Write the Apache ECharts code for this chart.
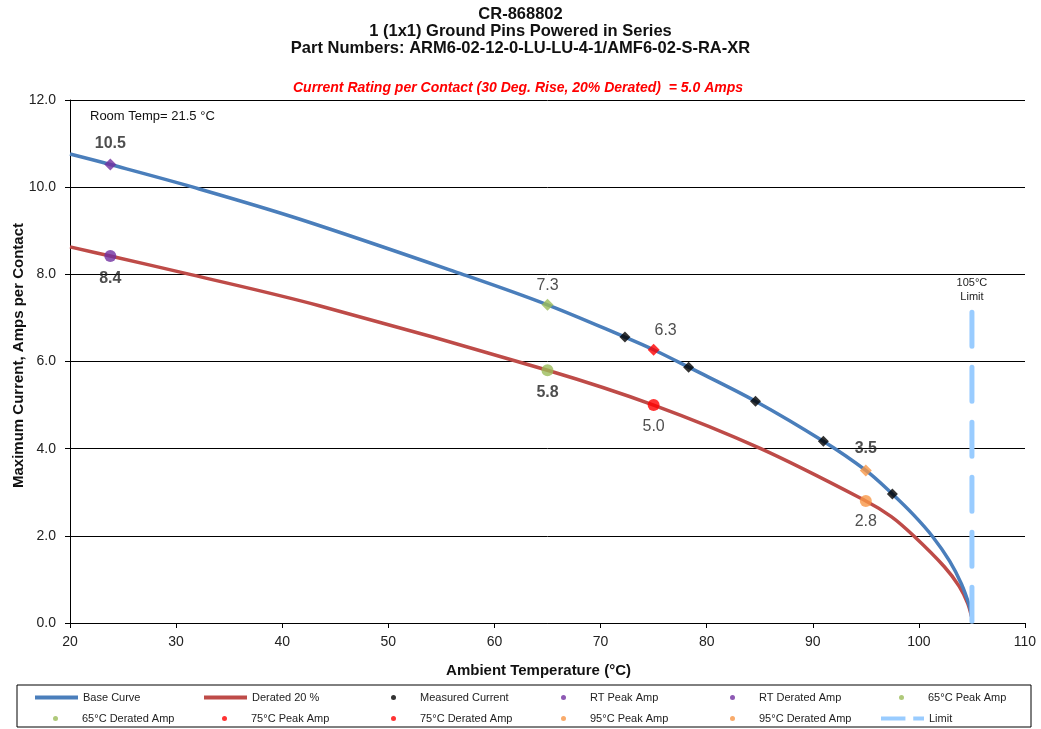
<!DOCTYPE html>
<html>
<head>
<meta charset="utf-8">
<script src="https://cdn.jsdelivr.net/npm/echarts@6/dist/echarts.min.js"></script>
<style>
html,body{margin:0;padding:0;background:#fff;}
#chart{width:1041px;height:729px;}
</style>
</head>
<body>
<div id="chart"></div>
<script>
// ---- data ----
const titleLines = ['CR-868802', '1 (1x1) Ground Pins Powered in Series', 'Part Numbers: ARM6-02-12-0-LU-LU-4-1/AMF6-02-S-RA-XR'];
const subtitleText = 'Current Rating per Contact (30 Deg. Rise, 20% Derated)  = 5.0 Amps';
const roomTempText = 'Room Temp= 21.5 °C';
const xAxisTitle = 'Ambient Temperature (°C)';
const yAxisTitle = 'Maximum Current, Amps per Contact';

const baseCurve = [[20,10.76],[23.8,10.52],[31.6,10.0],[41.6,9.27],[57,8.0],[65,7.3],[72.3,6.56],[75,6.27],[78.3,5.87],[84.6,5.09],[91,4.17],[95,3.5],[97.5,2.96],[99.5,2.48],[101.3,1.98],[102.9,1.42],[104,0.9],[104.75,0.4],[105,0.12]];
const deratedCurve = [[20,8.63],[23.8,8.42],[31.3,8.0],[43.5,7.28],[65,5.8],[75,5.0],[85.1,4.0],[95,2.8],[97.4,2.44],[99.5,2.0],[102.4,1.29],[103.8,0.84],[104.6,0.45],[104.95,0.15]];
const measuredCurrent = [[72.3,6.56],[78.3,5.87],[84.6,5.09],[91,4.17],[97.5,2.96]];
const rtPeak = [[23.8,10.52]];
const rtDerated = [[23.8,8.42]];
const peak65 = [[65,7.3]];
const derated65 = [[65,5.8]];
const peak75 = [[75,6.27]];
const derated75 = [[75,5.0]];
const peak95 = [[95,3.5]];
const derated95 = [[95,2.8]];
const limitLine = [[105,7.13],[105,0]];
const limitLabel = '105°C\nLimit';

const xTicks = {min:20, max:110, interval:10};
const yTicks = {min:0, max:12, interval:2};

const legendRows = [
  ['Base Curve','Derated 20 %','Measured Current','RT Peak Amp','RT Derated Amp','65°C Peak Amp'],
  ['65°C Derated Amp','75°C Peak Amp','75°C Derated Amp','95°C Peak Amp','95°C Derated Amp','Limit']
];

// ---- styling ----
const FONT = '"Liberation Sans", Arial, sans-serif';
const LINE_ICON = 'path://M0,0H44V4H0Z';
const DASH_ICON = 'path://M0,0H25V4H0ZM33,0H44V4H33Z';
const lineNames = {'Base Curve':LINE_ICON, 'Derated 20 %':LINE_ICON, 'Limit':DASH_ICON};

// one legend per cell so that columns sit on a fixed pitch like the reference
const legends = [];
legendRows.forEach((row, r) => {
  row.forEach((name, c) => {
    const isLine = !!lineNames[name];
    legends.push({
      data: [{name, icon: lineNames[name] || 'circle'}],
      left: Math.round(35 + c * 169.2 + (isLine ? 0 : 18)), top: 692 + r * 21, padding: 0,
      itemWidth: 43, itemHeight: 5, selectedMode: false,
      textStyle: {fontFamily: FONT, fontSize: 11, color: '#222'}
    });
  });
});

function marker(name, data, symbol, size, color, label){
  const s = {name, type:'scatter', data, symbol, symbolSize:size, z:5,
    itemStyle:{color}};
  if (label){
    s.label = Object.assign({show:true, fontFamily:FONT, fontSize:16, color:'#222',
      formatter: p => p.value[1].toFixed(1)}, label);
  }
  return s;
}

const chart = echarts.init(document.getElementById('chart'), null, {renderer:'canvas'});
chart.setOption({
  animation: false,
  backgroundColor: '#fff',
  title: [
    {text: titleLines.join('\n'), left: 'center', top: 1,
     textStyle:{fontFamily:FONT, fontSize:16.5, fontWeight:'bold', color:'#111', lineHeight:17}},
    {text: subtitleText, left: 513, textAlign:'center', top: 76,
     textStyle:{fontFamily:FONT, fontSize:14, fontWeight:'bold', fontStyle:'italic', color:'#FF0000'}}
  ],
  legend: legends,
  graphic: [
    {type:'rect', shape:{x:17, y:685, width:1014, height:42}, style:{fill:'none', stroke:'#000', lineWidth:1}, z:-1},
    {type:'text', left: 90, top: 110, style:{text: roomTempText, font: '13px ' + FONT, fill:'#111'}}
  ],
  grid: {left: 70, right: 16, top: 100, bottom: 106, containLabel: false, outerBoundsMode: 'none'},
  xAxis: {
    type:'value', min:xTicks.min, max:xTicks.max, interval:xTicks.interval,
    name: xAxisTitle, nameLocation:'middle', nameGap: 40, nameMoveOverlap: false,
    nameTextStyle:{fontFamily:FONT, fontSize:15, fontWeight:'bold', color:'#111', padding:[0,18,0,0]},
    axisLine:{show:true, onZero:false, lineStyle:{color:'#000', width:1}},
    axisTick:{show:true, length:5, lineStyle:{color:'#000'}},
    axisLabel:{fontFamily:FONT, fontSize:14, color:'#222', margin:12},
    splitLine:{show:false}
  },
  yAxis: {
    type:'value', min:yTicks.min, max:yTicks.max, interval:yTicks.interval,
    name: yAxisTitle, nameLocation:'middle', nameGap: 44, nameRotate: 90, nameMoveOverlap: false,
    nameTextStyle:{fontFamily:FONT, fontSize:15, fontWeight:'bold', color:'#111', padding:[0,0,0,12]},
    axisLine:{show:true, lineStyle:{color:'#000', width:1}},
    axisTick:{show:true, length:5, lineStyle:{color:'#000'}},
    axisLabel:{fontFamily:FONT, fontSize:14, color:'#222', margin:14, formatter: v => v.toFixed(1)},
    splitLine:{show:true, lineStyle:{color:'#000', width:1}}
  },
  series: [
    {name:'Base Curve', type:'line', data: baseCurve, smooth:0.35, symbol:'none', z:3,
     itemStyle:{color:'#4A7EBB'}, lineStyle:{color:'#4A7EBB', width:3.5}},
    {name:'Derated 20 %', type:'line', data: deratedCurve, smooth:0.35, symbol:'none', z:2,
     itemStyle:{color:'#BE4B48'}, lineStyle:{color:'#BE4B48', width:3.5}},
    marker('Measured Current', measuredCurrent, 'diamond', 11, '#000000'),
    marker('RT Peak Amp', rtPeak, 'diamond', 12, '#7030A0', {position:'top', distance:7, fontWeight:'bold'}),
    marker('RT Derated Amp', rtDerated, 'circle', 12, '#7030A0', {position:'bottom', distance:9, fontWeight:'bold'}),
    marker('65°C Peak Amp', peak65, 'diamond', 12, '#9BBB59', {position:'top', distance:5}),
    marker('65°C Derated Amp', derated65, 'circle', 12, '#9BBB59', {position:'bottom', distance:8, fontWeight:'bold'}),
    marker('75°C Peak Amp', peak75, 'diamond', 12, '#FF0000', {position:'top', distance:5, offset:[12,0]}),
    marker('75°C Derated Amp', derated75, 'circle', 12, '#FF0000', {position:'bottom', distance:8}),
    marker('95°C Peak Amp', peak95, 'diamond', 12, '#F79646', {position:'top', distance:8, fontWeight:'bold'}),
    marker('95°C Derated Amp', derated95, 'circle', 12, '#F79646', {position:'bottom', distance:7}),
    {name:'Limit', type:'line', data: limitLine, symbol:'none', z:4,
     itemStyle:{color:'#99CCFF'},
     lineStyle:{color:'#99CCFF', width:5, type:[34,21], cap:'round'},
     label:{show:false},
     markPoint:{symbol:'circle', symbolSize:0, silent:true,
       data:[{coord: limitLine[0], value: limitLabel}],
       label:{show:true, position:'top', distance:8, formatter: limitLabel,
         fontFamily:FONT, fontSize:11, lineHeight:14, color:'#222'}}}
  ]
});
</script>
</body>
</html>
